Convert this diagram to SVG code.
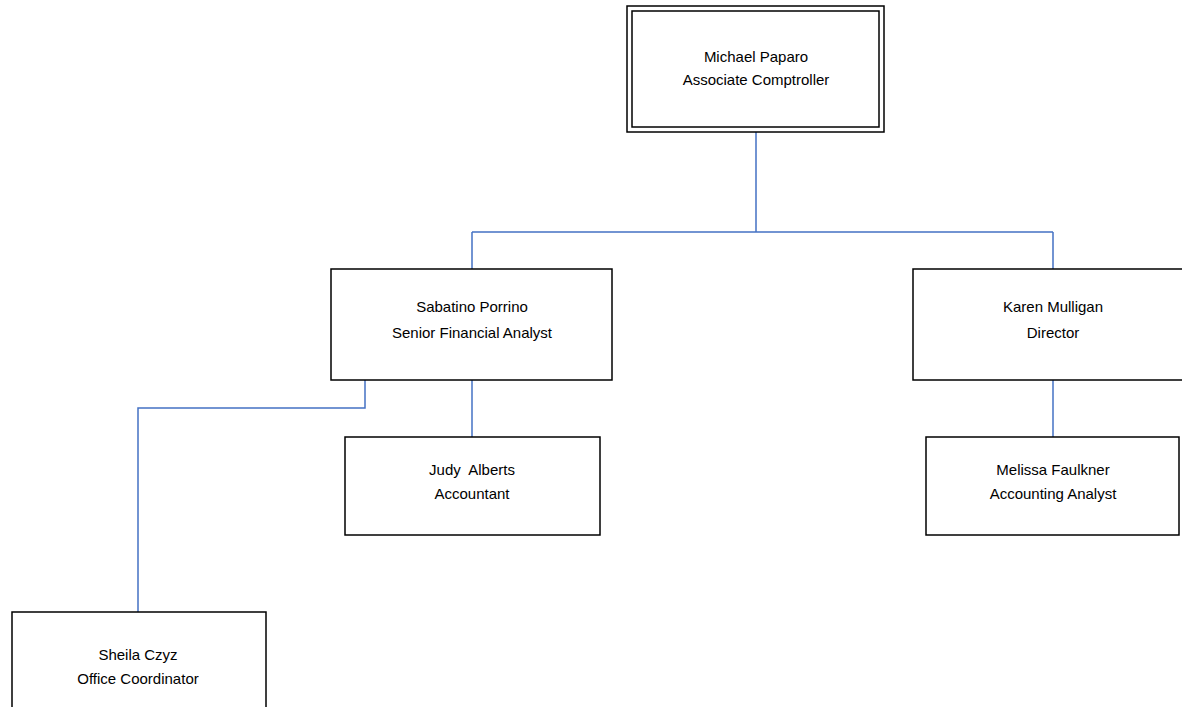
<svg xmlns="http://www.w3.org/2000/svg" width="1182" height="707" viewBox="0 0 1182 707">
<style>
.box{fill:#fff;stroke:#000;stroke-width:1.5}
.t{font-family:"Liberation Sans",Arial,sans-serif;font-size:15px;fill:#000;text-anchor:middle}
.c{fill:none;stroke:#4472C4;stroke-width:1.5}
</style>
<rect width="1182" height="707" fill="#fff"/>
<g id="connectors">
<path class="c" d="M756 131V232M472 232H1053M472 232V269M1053 232V269"/>
<path class="c" d="M472 380V437"/>
<path class="c" d="M365 380V408H138V612"/>
<path class="c" d="M1053 380V437"/>
</g>
<g id="michael">
<rect class="box" x="627" y="6" width="257" height="126"/>
<rect class="box" x="632" y="11" width="247" height="116"/>
<text class="t" x="756" y="62">Michael Paparo</text>
<text class="t" x="756" y="85">Associate Comptroller</text>
</g>
<g id="sabatino">
<rect class="box" x="331" y="269" width="281" height="111"/>
<text class="t" x="472" y="312">Sabatino Porrino</text>
<text class="t" x="472" y="338">Senior Financial Analyst</text>
</g>
<g id="karen">
<rect class="box" x="913" y="269" width="275" height="111"/>
<text class="t" x="1053" y="312">Karen Mulligan</text>
<text class="t" x="1053" y="338">Director</text>
</g>
<g id="judy">
<rect class="box" x="345" y="437" width="255" height="98"/>
<text class="t" x="472" y="475" xml:space="preserve">Judy  Alberts</text>
<text class="t" x="472" y="499">Accountant</text>
</g>
<g id="melissa">
<rect class="box" x="926" y="437" width="253" height="98"/>
<text class="t" x="1053" y="475">Melissa Faulkner</text>
<text class="t" x="1053" y="499">Accounting Analyst</text>
</g>
<g id="sheila">
<rect class="box" x="12" y="612" width="254" height="110"/>
<text class="t" x="138" y="660">Sheila Czyz</text>
<text class="t" x="138" y="684">Office Coordinator</text>
</g>
</svg>
